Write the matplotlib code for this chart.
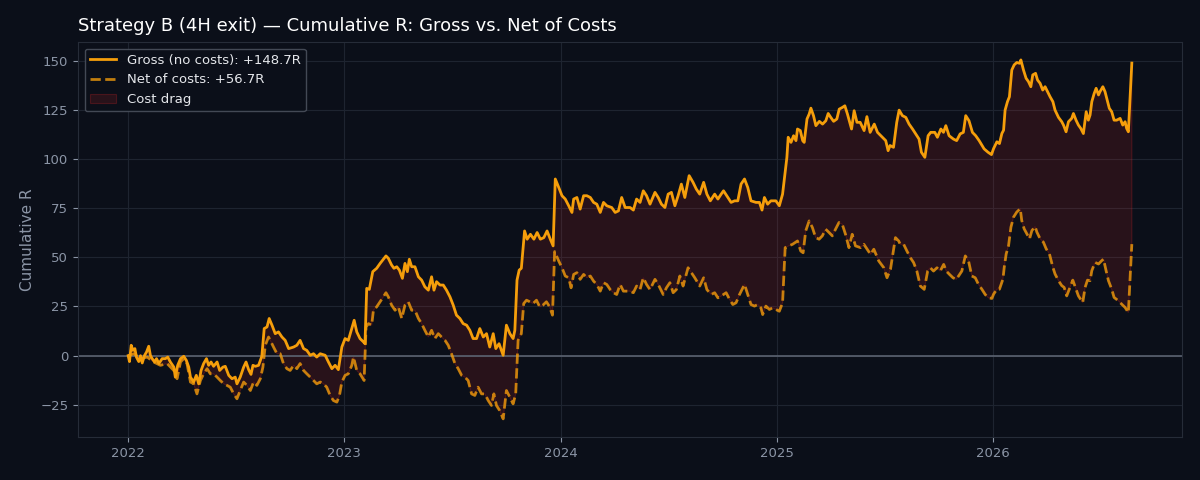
import numpy as np
import matplotlib
matplotlib.use("Agg")
import matplotlib.pyplot as plt

# cumulative R of strategy B (x = fractional year)
gross_t = [
    2022.000, 2022.006, 2022.014, 2022.022, 2022.031, 2022.038, 2022.049, 2022.057, 2022.065, 2022.075,
    2022.085, 2022.095, 2022.103, 2022.111, 2022.122, 2022.131, 2022.142, 2022.157, 2022.172, 2022.183,
    2022.195, 2022.211, 2022.218, 2022.229, 2022.242, 2022.257, 2022.269, 2022.280, 2022.288, 2022.303,
    2022.315, 2022.326, 2022.337, 2022.349, 2022.362, 2022.372, 2022.383, 2022.395, 2022.411, 2022.423,
    2022.438, 2022.449, 2022.465, 2022.480, 2022.495, 2022.503, 2022.518, 2022.534, 2022.545, 2022.557,
    2022.568, 2022.577, 2022.588, 2022.603, 2022.618, 2022.629, 2022.642, 2022.652, 2022.665, 2022.680,
    2022.695, 2022.711, 2022.726, 2022.742, 2022.765, 2022.780, 2022.795, 2022.811, 2022.826, 2022.842,
    2022.857, 2022.872, 2022.888, 2022.911, 2022.926, 2022.942, 2022.957, 2022.972, 2022.988, 2023.003,
    2023.018, 2023.034, 2023.045, 2023.057, 2023.072, 2023.088, 2023.095, 2023.103, 2023.115, 2023.131,
    2023.149, 2023.165, 2023.180, 2023.192, 2023.203, 2023.218, 2023.229, 2023.242, 2023.254, 2023.268,
    2023.280, 2023.291, 2023.300, 2023.311, 2023.326, 2023.342, 2023.357, 2023.372, 2023.388, 2023.403,
    2023.414, 2023.426, 2023.442, 2023.457, 2023.472, 2023.488, 2023.503, 2023.518, 2023.534, 2023.549,
    2023.565, 2023.580, 2023.595, 2023.611, 2023.626, 2023.642, 2023.657, 2023.672, 2023.688, 2023.700,
    2023.715, 2023.734, 2023.749, 2023.765, 2023.780, 2023.788, 2023.798, 2023.808, 2023.818, 2023.833,
    2023.845, 2023.860, 2023.876, 2023.891, 2023.906, 2023.922, 2023.937, 2023.952, 2023.965, 2023.975,
    2023.991, 2024.006, 2024.021, 2024.037, 2024.052, 2024.060, 2024.075, 2024.090, 2024.106, 2024.121,
    2024.137, 2024.152, 2024.167, 2024.183, 2024.198, 2024.213, 2024.236, 2024.252, 2024.267, 2024.282,
    2024.298, 2024.321, 2024.336, 2024.351, 2024.367, 2024.382, 2024.397, 2024.413, 2024.436, 2024.451,
    2024.466, 2024.482, 2024.497, 2024.512, 2024.528, 2024.543, 2024.558, 2024.574, 2024.594, 2024.612,
    2024.627, 2024.643, 2024.661, 2024.676, 2024.692, 2024.712, 2024.727, 2024.742, 2024.753, 2024.768,
    2024.788, 2024.804, 2024.819, 2024.834, 2024.850, 2024.865, 2024.880, 2024.903, 2024.919, 2024.931,
    2024.942, 2024.957, 2024.972, 2024.995, 2025.011, 2025.026, 2025.046, 2025.052, 2025.065, 2025.077,
    2025.088, 2025.095, 2025.108, 2025.119, 2025.126, 2025.139, 2025.149, 2025.157, 2025.169, 2025.180,
    2025.196, 2025.211, 2025.226, 2025.237, 2025.249, 2025.262, 2025.277, 2025.288, 2025.303, 2025.314,
    2025.326, 2025.345, 2025.357, 2025.370, 2025.385, 2025.403, 2025.416, 2025.431, 2025.450, 2025.465,
    2025.488, 2025.503, 2025.514, 2025.523, 2025.539, 2025.554, 2025.565, 2025.580, 2025.596, 2025.611,
    2025.627, 2025.642, 2025.657, 2025.668, 2025.684, 2025.699, 2025.711, 2025.730, 2025.742, 2025.758,
    2025.770, 2025.781, 2025.796, 2025.816, 2025.831, 2025.847, 2025.862, 2025.873, 2025.888, 2025.904,
    2025.919, 2025.935, 2025.958, 2025.976, 2025.992, 2026.002, 2026.017, 2026.029, 2026.040, 2026.048,
    2026.055, 2026.066, 2026.075, 2026.086, 2026.097, 2026.109, 2026.122, 2026.128, 2026.140, 2026.152,
    2026.163, 2026.174, 2026.183, 2026.196, 2026.205, 2026.217, 2026.229, 2026.240, 2026.251, 2026.263,
    2026.276, 2026.286, 2026.302, 2026.317, 2026.325, 2026.337, 2026.348, 2026.363, 2026.371, 2026.383,
    2026.394, 2026.405, 2026.417, 2026.430, 2026.440, 2026.448, 2026.456, 2026.467, 2026.476, 2026.487,
    2026.494, 2026.507, 2026.517, 2026.525, 2026.537, 2026.548, 2026.559, 2026.571, 2026.587, 2026.599,
    2026.610, 2026.617, 2026.625, 2026.641,
]
gross_r = [
    0.0, -3.0, 5.3, 2.7, 3.6, -0.7, -3.0, 0.0, -3.7, 0.0,
    1.9, 4.8, 0.0, -1.5, -3.2, -1.5, -4.0, -1.5, -1.5, -0.7,
    -3.2, -5.8, -10.9, -4.9, -1.5, -0.3, -2.4, -5.8, -10.9, -13.4,
    -10.0, -14.3, -7.5, -4.0, -1.5, -4.9, -3.2, -5.4, -3.2, -7.5,
    -5.8, -5.4, -10.0, -11.7, -10.9, -14.3, -10.9, -5.8, -3.2, -7.1,
    -9.5, -4.9, -5.4, -4.9, -0.3, 13.8, 14.6, 18.9, 15.5, 11.2,
    12.1, 9.5, 7.8, 3.6, 4.4, 5.3, 7.8, 3.6, 2.7, 0.2,
    1.0, -0.7, 1.0, 0.2, -3.2, -6.6, -4.9, -7.1, 4.4, 8.7,
    7.8, 13.8, 18.0, 12.1, 8.7, 7.0, 6.1, 34.2, 33.7, 42.7,
    44.4, 46.9, 49.0, 50.7, 49.5, 46.1, 44.4, 45.2, 43.5, 39.3,
    46.9, 42.7, 49.0, 45.2, 45.2, 40.1, 38.4, 35.0, 33.3, 40.1,
    33.3, 37.6, 35.9, 35.9, 33.3, 29.9, 25.7, 20.6, 18.9, 16.3,
    15.5, 12.9, 8.7, 8.7, 13.8, 9.5, 11.2, 4.4, 11.2, 3.6,
    6.1, 0.2, 15.5, 11.2, 8.7, 12.9, 38.4, 43.5, 44.4, 63.4,
    59.2, 61.7, 59.2, 62.6, 59.2, 60.0, 63.4, 59.2, 55.8, 89.8,
    85.5, 81.3, 79.6, 76.2, 72.8, 79.6, 80.4, 74.5, 81.3, 81.3,
    80.4, 77.9, 77.0, 72.8, 77.9, 76.2, 75.3, 72.8, 73.6, 80.4,
    75.3, 75.3, 74.0, 79.6, 77.9, 83.8, 81.3, 77.0, 83.0, 80.4,
    77.0, 75.3, 82.1, 83.0, 76.2, 81.3, 87.2, 80.4, 91.5, 88.1,
    84.7, 82.1, 88.1, 82.1, 78.7, 82.1, 79.6, 82.1, 83.8, 81.3,
    77.9, 78.7, 78.7, 87.2, 89.8, 85.5, 78.7, 77.9, 77.9, 74.0,
    80.4, 77.0, 78.7, 78.7, 76.2, 82.1, 100.8, 111.0, 108.4, 111.8,
    109.3, 115.2, 114.4, 109.3, 108.4, 120.3, 122.8, 125.8, 122.0, 116.9,
    119.1, 117.7, 119.4, 123.1, 121.1, 119.1, 120.3, 125.3, 126.2, 127.0,
    122.8, 115.2, 124.5, 118.6, 118.6, 114.4, 121.5, 113.5, 117.7, 113.5,
    111.0, 109.3, 104.2, 106.8, 105.9, 118.6, 124.8, 122.0, 121.1, 117.7,
    115.2, 112.7, 110.1, 103.4, 100.8, 111.8, 113.5, 113.5, 111.0, 115.2,
    113.5, 116.9, 111.8, 110.1, 109.3, 112.7, 113.5, 122.0, 119.4, 113.5,
    111.8, 109.3, 105.1, 103.4, 102.2, 105.3, 108.7, 107.8, 112.9, 114.6,
    124.8, 129.1, 131.6, 145.2, 147.8, 149.0, 148.6, 150.3, 145.2, 141.0,
    139.3, 136.7, 142.7, 143.5, 140.1, 138.4, 135.0, 136.7, 134.2, 131.6,
    129.1, 124.8, 121.1, 118.9, 117.2, 113.8, 118.9, 120.6, 123.1, 119.7,
    117.2, 115.5, 112.9, 124.0, 119.7, 122.3, 129.1, 133.3, 135.9, 132.5,
    134.2, 136.7, 134.2, 130.8, 125.7, 124.0, 119.7, 119.7, 120.6, 117.2,
    118.9, 115.5, 113.8, 148.7,
]

net_t = [
    2022.000, 2022.026, 2022.057, 2022.088, 2022.118, 2022.149, 2022.180, 2022.211, 2022.226, 2022.242,
    2022.257, 2022.272, 2022.288, 2022.303, 2022.318, 2022.334, 2022.349, 2022.365, 2022.380, 2022.395,
    2022.411, 2022.426, 2022.442, 2022.457, 2022.472, 2022.488, 2022.503, 2022.518, 2022.534, 2022.549,
    2022.565, 2022.580, 2022.595, 2022.611, 2022.623, 2022.634, 2022.649, 2022.657, 2022.672, 2022.688,
    2022.703, 2022.718, 2022.734, 2022.749, 2022.765, 2022.780, 2022.795, 2022.811, 2022.826, 2022.842,
    2022.857, 2022.872, 2022.888, 2022.903, 2022.918, 2022.934, 2022.949, 2022.965, 2022.977, 2022.988,
    2023.003, 2023.018, 2023.034, 2023.042, 2023.057, 2023.072, 2023.091, 2023.100, 2023.111, 2023.126,
    2023.134, 2023.149, 2023.165, 2023.180, 2023.192, 2023.203, 2023.218, 2023.234, 2023.249, 2023.265,
    2023.280, 2023.295, 2023.311, 2023.326, 2023.342, 2023.357, 2023.372, 2023.388, 2023.403, 2023.418,
    2023.434, 2023.449, 2023.465, 2023.480, 2023.495, 2023.511, 2023.526, 2023.542, 2023.557, 2023.572,
    2023.588, 2023.603, 2023.618, 2023.634, 2023.649, 2023.665, 2023.680, 2023.691, 2023.703, 2023.718,
    2023.734, 2023.749, 2023.765, 2023.780, 2023.792, 2023.803, 2023.818, 2023.829, 2023.842, 2023.857,
    2023.872, 2023.888, 2023.903, 2023.918, 2023.934, 2023.949, 2023.962, 2023.972, 2023.991, 2024.006,
    2024.021, 2024.037, 2024.048, 2024.060, 2024.075, 2024.090, 2024.106, 2024.121, 2024.137, 2024.152,
    2024.167, 2024.183, 2024.198, 2024.213, 2024.229, 2024.244, 2024.259, 2024.275, 2024.290, 2024.305,
    2024.321, 2024.336, 2024.351, 2024.367, 2024.382, 2024.397, 2024.413, 2024.436, 2024.451, 2024.474,
    2024.489, 2024.505, 2024.520, 2024.535, 2024.551, 2024.566, 2024.589, 2024.604, 2024.620, 2024.643,
    2024.661, 2024.676, 2024.696, 2024.712, 2024.727, 2024.742, 2024.765, 2024.781, 2024.796, 2024.811,
    2024.827, 2024.850, 2024.865, 2024.880, 2024.896, 2024.911, 2024.926, 2024.934, 2024.949, 2024.965,
    2024.980, 2024.995, 2025.011, 2025.026, 2025.038, 2025.054, 2025.072, 2025.095, 2025.110, 2025.121,
    2025.133, 2025.149, 2025.164, 2025.179, 2025.195, 2025.210, 2025.225, 2025.241, 2025.256, 2025.271,
    2025.287, 2025.302, 2025.317, 2025.333, 2025.348, 2025.363, 2025.387, 2025.402, 2025.417, 2025.433,
    2025.448, 2025.471, 2025.494, 2025.509, 2025.525, 2025.548, 2025.563, 2025.570, 2025.586, 2025.601,
    2025.617, 2025.632, 2025.647, 2025.663, 2025.681, 2025.697, 2025.709, 2025.724, 2025.740, 2025.755,
    2025.771, 2025.783, 2025.798, 2025.814, 2025.829, 2025.840, 2025.855, 2025.871, 2025.886, 2025.901,
    2025.917, 2025.932, 2025.948, 2025.963, 2025.978, 2025.994, 2026.002, 2026.017, 2026.029, 2026.045,
    2026.051, 2026.060, 2026.071, 2026.082, 2026.094, 2026.109, 2026.125, 2026.132, 2026.143, 2026.156,
    2026.168, 2026.179, 2026.194, 2026.202, 2026.217, 2026.232, 2026.245, 2026.260, 2026.276, 2026.286,
    2026.302, 2026.317, 2026.328, 2026.340, 2026.352, 2026.368, 2026.383, 2026.394, 2026.414, 2026.425,
    2026.436, 2026.448, 2026.456, 2026.471, 2026.487, 2026.502, 2026.510, 2026.522, 2026.533, 2026.548,
    2026.559, 2026.579, 2026.594, 2026.610, 2026.625, 2026.641,
]
net_r = [
    0.0, 1.0, -1.5, -0.7, -3.2, -4.9, -4.0, -7.5, -11.7, -3.2,
    -1.5, -4.0, -13.4, -14.3, -19.4, -12.6, -9.2, -6.6, -9.2, -9.2,
    -10.9, -12.6, -14.3, -15.1, -16.0, -19.4, -21.9, -17.7, -13.4, -15.1,
    -17.7, -13.4, -15.1, -11.7, -5.8, 5.3, 9.5, 7.8, 4.4, 1.0,
    1.0, -4.0, -6.6, -7.5, -4.9, -6.6, -4.0, -7.5, -9.2, -10.9,
    -12.6, -14.3, -13.4, -14.3, -16.0, -20.2, -22.8, -23.6, -20.2, -13.4,
    -10.0, -9.2, -4.9, -0.7, -7.5, -9.2, -12.6, 14.6, 16.3, 15.5,
    23.1, 24.8, 27.4, 29.9, 32.0, 29.9, 25.7, 23.1, 24.8, 18.9,
    25.7, 27.4, 23.1, 23.1, 18.9, 16.3, 12.9, 9.5, 12.9, 8.7,
    11.2, 9.5, 7.8, 5.3, 1.0, -4.0, -6.6, -10.0, -10.9, -12.6,
    -19.4, -20.2, -16.0, -19.4, -19.4, -22.8, -25.3, -19.4, -25.3, -27.9,
    -32.1, -17.7, -21.1, -24.5, -19.4, 7.8, 11.2, 26.5, 28.2, 27.4,
    26.5, 28.2, 24.8, 25.7, 27.4, 24.8, 20.6, 52.9, 48.1, 44.7,
    40.5, 39.6, 34.5, 41.3, 42.2, 38.8, 41.3, 39.6, 40.5, 37.9,
    36.2, 32.8, 37.1, 36.2, 33.6, 32.0, 31.1, 36.2, 32.8, 32.8,
    32.8, 32.0, 35.4, 33.6, 39.6, 36.2, 33.6, 38.8, 36.2, 31.1,
    34.5, 37.1, 32.0, 33.6, 40.5, 35.4, 44.7, 42.2, 39.6, 35.4,
    39.6, 33.6, 31.1, 32.0, 29.4, 30.3, 32.0, 28.6, 26.0, 26.9,
    31.1, 36.2, 31.1, 26.0, 25.2, 26.0, 24.3, 20.9, 25.2, 23.5,
    24.3, 23.5, 22.6, 26.9, 54.9, 55.8, 56.6, 58.3, 53.2, 52.3,
    63.4, 68.5, 65.1, 60.0, 59.2, 60.9, 64.3, 62.6, 60.9, 64.3,
    67.7, 66.8, 61.7, 54.9, 61.7, 55.8, 54.9, 56.6, 54.1, 51.5,
    54.1, 48.1, 44.7, 39.6, 43.9, 60.0, 58.3, 56.6, 56.6, 53.2,
    49.8, 47.3, 43.0, 35.4, 33.7, 43.0, 44.7, 43.0, 44.7, 43.0,
    46.4, 43.0, 41.3, 39.6, 38.8, 40.5, 43.0, 50.7, 48.1, 40.5,
    39.6, 36.2, 33.7, 31.1, 29.4, 29.1, 31.3, 33.8, 33.8, 38.9,
    44.9, 51.7, 55.9, 65.3, 70.4, 73.0, 74.7, 68.7, 64.5, 61.9,
    59.4, 63.6, 65.6, 62.8, 59.4, 57.7, 54.3, 51.7, 44.9, 41.5,
    38.1, 35.6, 34.7, 30.4, 33.8, 38.4, 33.8, 30.4, 27.0, 34.7,
    38.4, 38.1, 43.2, 47.4, 46.6, 48.3, 49.1, 43.2, 38.1, 33.8,
    29.6, 27.9, 26.2, 24.5, 21.9, 56.7,
]

year_ticks = [2022, 2023, 2024, 2025, 2026]
r_ticks = [-25, 0, 25, 50, 75, 100, 125, 150]

BG = "#0b0f19"
GRID = "#1e2430"
TXT = "#8b95a6"
AMBER = "#f59e0b"

fig = plt.figure(figsize=(12, 4.8), dpi=100, facecolor=BG)
ax = fig.add_axes([0.065, 0.09, 0.92, 0.8225])
ax.set_facecolor(BG)

# cost drag = area between the two curves
poly_x = np.concatenate([gross_t, net_t[::-1]])
poly_y = np.concatenate([gross_r, net_r[::-1]])
ax.fill(poly_x, poly_y, facecolor=(0.86, 0.15, 0.15, 0.14),
        edgecolor=(0.86, 0.15, 0.15, 0.25), lw=0.8, zorder=1, label="Cost drag")

ax.axhline(0, color="#5b6270", lw=1.2, zorder=2)
ax.plot(net_t, net_r, color=AMBER, alpha=0.78, lw=2, ls="--", zorder=3,
        label=f"Net of costs: +{net_r[-1]:.1f}R")
ax.plot(gross_t, gross_r, color=AMBER, lw=2, zorder=4,
        label=f"Gross (no costs): +{gross_r[-1]:.1f}R")

ax.set_xticks(year_ticks)
ax.set_xticklabels([str(y) for y in year_ticks])
ax.set_yticks(r_ticks)
ax.grid(True, color=GRID, lw=0.8)
ax.set_axisbelow(True)

for s in ax.spines.values():
    s.set_color("#262c38")
ax.tick_params(colors=TXT, labelsize=9.5)

ax.set_ylabel("Cumulative R", color=TXT, fontsize=11)
ax.set_title("Strategy B (4H exit) \u2014 Cumulative R: Gross vs. Net of Costs",
             loc="left", color="white", fontsize=13, pad=8)

handles, labels = ax.get_legend_handles_labels()
order = [2, 1, 0]
leg = ax.legend([handles[i] for i in order], [labels[i] for i in order],
                loc="upper left", fontsize=9.5, facecolor=BG, edgecolor="#4a505c",
                framealpha=0.9)
for t in leg.get_texts():
    t.set_color("#e5e7eb")

fig.savefig("out.png", dpi=100, facecolor=BG)
